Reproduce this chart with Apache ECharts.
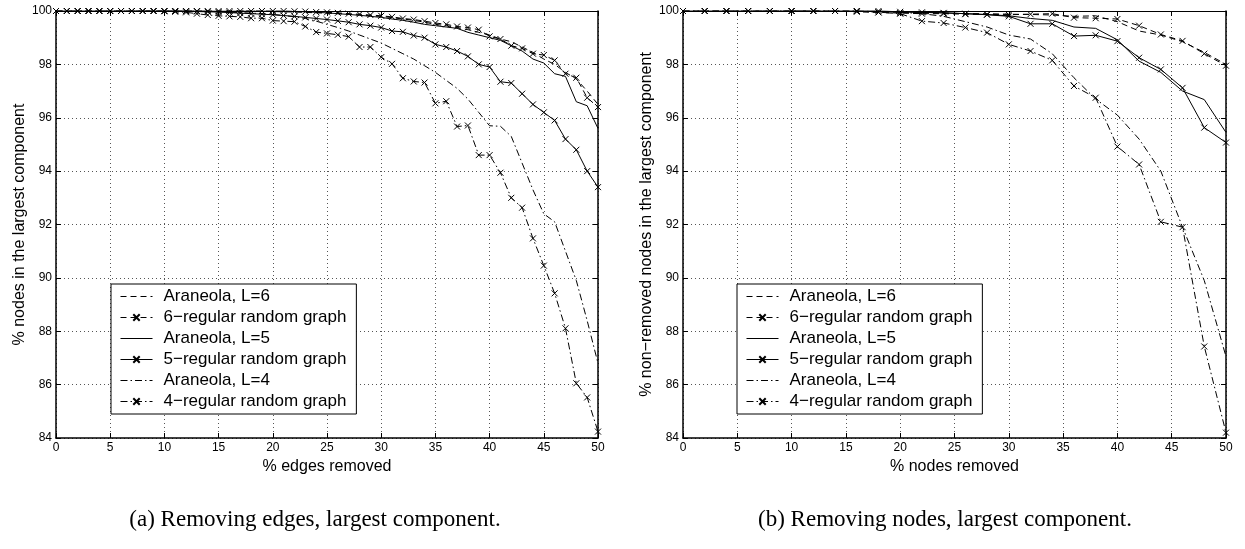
<!DOCTYPE html>
<html>
<head>
<meta charset="utf-8">
<script src="https://cdn.jsdelivr.net/npm/echarts@6/dist/echarts.min.js"></script>
<style>
  html, body { margin: 0; padding: 0; background: #fff; }
  #chart { width: 1245px; height: 549px; }
</style>
</head>
<body>
<div id="chart"></div>
<script>
// x positions: percentage of edges / nodes removed
const edgesRemoved = [0,1,2,3,4,5,6,7,8,9,10,11,12,13,14,15,16,17,18,19,20,21,22,23,24,25,26,27,28,29,30,31,32,33,34,35,36,37,38,39,40,41,42,43,44,45,46,47,48,49,50];
const nodesRemoved = [0,2,4,6,8,10,12,14,16,18,20,22,24,26,28,30,32,34,36,38,40,42,44,46,48,50];

const seriesNames = ['Araneola, L=6', '6−regular random graph', 'Araneola, L=5', '5−regular random graph', 'Araneola, L=4', '4−regular random graph'];

// (a) edges removed: % nodes in the largest component
const edgesAraneolaL6 = [100,100,100,100,100,100,100,100,100,100,100,100,100,100,100,100,100,100,100,100,99.98,99.97,99.96,99.95,99.93,99.92,99.9,99.88,99.85,99.82,99.8,99.75,99.7,99.65,99.58,99.5,99.45,99.38,99.3,99.2,99.1,98.95,98.85,98.65,98.45,98.2,98.0,97.7,97.45,97.0,96.5];
const edgesRegular6 = [100,100,100,100,100,100,100,100,100,100,100,100,100,100,100,100,100,100,100,100,100,100,99.99,99.98,99.96,99.95,99.93,99.9,99.88,99.85,99.82,99.78,99.72,99.68,99.62,99.55,99.5,99.42,99.38,99.3,99.05,98.95,98.7,98.6,98.4,98.35,98.15,97.65,97.5,96.75,96.4];
const edgesAraneolaL5 = [100,100,100,100,100,100,100,100,100,100,100,100,100,100,100,100,100,100,100,100,100,100,99.98,99.97,99.95,99.93,99.9,99.87,99.84,99.8,99.76,99.7,99.65,99.58,99.5,99.45,99.4,99.35,99.2,99.1,99.0,98.9,98.7,98.5,98.2,98.05,97.65,97.55,96.6,96.45,95.6];
const edgesRegular5 = [100,100,100,100,100,100,100,100,100,100,100,100,99.99,99.98,99.97,99.96,99.94,99.92,99.9,99.88,99.86,99.83,99.8,99.76,99.72,99.68,99.63,99.58,99.5,99.45,99.38,99.25,99.22,99.08,99.0,98.75,98.65,98.5,98.3,98.0,97.9,97.35,97.3,96.9,96.5,96.2,95.9,95.2,94.8,94.0,93.4];
const edgesAraneolaL4 = [100,100,100,100,100,100,100,100,100,100,100,100,100,100,100,99.98,99.96,99.94,99.92,99.9,99.87,99.83,99.78,99.72,99.62,99.5,99.38,99.25,99.1,98.95,98.8,98.6,98.4,98.2,97.95,97.7,97.4,97.1,96.7,96.2,95.7,95.68,95.3,94.3,93.3,92.4,92.1,91.0,89.9,88.4,86.8];
const edgesRegular4 = [100,100,100,100,100,100,100,100,100,100,99.99,99.97,99.95,99.9,99.85,99.82,99.8,99.78,99.73,99.73,99.64,99.62,99.6,99.42,99.21,99.16,99.11,99.04,98.65,98.65,98.27,98.02,97.48,97.36,97.32,96.54,96.62,95.67,95.71,94.6,94.6,93.94,93.0,92.63,91.48,90.46,89.42,88.11,86.05,85.52,84.24];

// (b) nodes removed: % non-removed nodes in the largest component
const nodesAraneolaL6 = [100,100,100,100,100,100,100,100,99.98,99.97,99.95,99.93,99.92,99.9,99.9,99.88,99.87,99.85,99.8,99.82,99.6,99.25,99.1,98.85,98.45,98.0];
const nodesRegular6 = [100,100,100,100,100,100,100,100,99.97,99.95,99.92,99.9,99.9,99.88,99.87,99.86,99.88,99.9,99.75,99.73,99.7,99.45,99.12,98.88,98.4,97.95];
const nodesAraneolaL5 = [100,100,100,100,100,100,100,100,100,100,99.97,99.95,99.93,99.9,99.87,99.82,99.72,99.65,99.4,99.35,98.92,98.12,97.7,97.0,96.68,95.45];
const nodesRegular5 = [100,100,100,100,100,100,100,100,100,100,99.97,99.95,99.93,99.9,99.86,99.8,99.52,99.52,99.06,99.09,98.87,98.25,97.81,97.12,95.63,95.07];
const nodesAraneolaL4 = [100,100,100,100,100,100,100,100,100,99.98,99.95,99.9,99.8,99.6,99.4,99.1,98.95,98.4,97.5,96.7,96.1,95.2,94.0,91.9,89.9,87.05];
const nodesRegular4 = [100,100,100,100,100,100,100,100,100,99.95,99.9,99.62,99.55,99.38,99.19,98.75,98.5,98.15,97.19,96.75,94.92,94.25,92.1,91.9,87.43,84.2];

const yTicks = { min: 84, max: 100, interval: 2 };
const xTicks = { min: 0, max: 50, interval: 5 };

const SANS = 'Liberation Sans, Arial, sans-serif';
const SERIF = 'Liberation Serif, Times New Roman, serif';
const CROSS = 'path://M0,0L10,10M10,0L0,10';

const DASH = [6, 4];
const DASH_DOT = [7, 3, 1.5, 3];
const styles = [
  { type: DASH, marker: false },
  { type: DASH, marker: true },
  { type: 'solid', marker: false },
  { type: 'solid', marker: true },
  { type: DASH_DOT, marker: false },
  { type: DASH_DOT, marker: true }
];

function pairs(xs, ys) { return xs.map((x, i) => [x, ys[i]]); }

function makeSeries(xs, lists, axisIdx) {
  return lists.map((ys, k) => ({
    name: seriesNames[k],
    type: 'line',
    xAxisIndex: axisIdx,
    yAxisIndex: axisIdx,
    data: pairs(xs, ys),
    showSymbol: styles[k].marker,
    showAllSymbol: true,
    symbol: CROSS,
    symbolSize: 6,
    itemStyle: { color: '#000', borderColor: '#000', borderWidth: 1 },
    lineStyle: { color: '#000', width: 1, type: styles[k].type },
    emphasis: { disabled: true },
    animation: false,
    z: 3
  }));
}

function bottomX(grid, name) {
  return {
    type: 'value', gridIndex: grid, position: 'bottom',
    min: xTicks.min, max: xTicks.max, interval: xTicks.interval,
    name: name, nameLocation: 'middle', nameGap: 20,
    nameTextStyle: { fontFamily: SANS, fontSize: 16, color: '#000' },
    axisLine: { show: true, onZero: false, lineStyle: { color: '#000', width: 1.5 } },
    axisTick: { show: true, inside: true, length: 5, lineStyle: { color: '#000' } },
    axisLabel: { fontFamily: SANS, fontSize: 12, color: '#000', margin: 4 },
    splitLine: { show: true, lineStyle: { color: '#555', width: 1, type: [1, 3] } }
  };
}
function topX(grid) {
  return {
    type: 'value', gridIndex: grid, position: 'top',
    min: xTicks.min, max: xTicks.max, interval: xTicks.interval,
    axisLine: { show: true, onZero: false, lineStyle: { color: '#000', width: 1 } },
    axisTick: { show: true, inside: true, length: 5, lineStyle: { color: '#000' } },
    axisLabel: { show: false }, splitLine: { show: false }
  };
}
function leftY(grid, name) {
  return {
    type: 'value', gridIndex: grid, position: 'left',
    min: yTicks.min, max: yTicks.max, interval: yTicks.interval,
    name: name, nameLocation: 'middle', nameGap: 28, nameRotate: 90,
    nameTextStyle: { fontFamily: SANS, fontSize: 16, color: '#000' },
    axisLine: { show: true, onZero: false, lineStyle: { color: '#000', width: 1.5 } },
    axisTick: { show: true, inside: true, length: 5, lineStyle: { color: '#000' } },
    axisLabel: { fontFamily: SANS, fontSize: 12, color: '#000', margin: 4 },
    splitLine: { show: true, lineStyle: { color: '#555', width: 1, type: [1, 3] } }
  };
}
function rightY(grid) {
  return {
    type: 'value', gridIndex: grid, position: 'right',
    min: yTicks.min, max: yTicks.max, interval: yTicks.interval,
    axisLine: { show: true, onZero: false, lineStyle: { color: '#000', width: 1.5 } },
    axisTick: { show: true, inside: true, length: 5, lineStyle: { color: '#000' } },
    axisLabel: { show: false }, splitLine: { show: false }
  };
}

function legendAt(left) {
  return {
    left: left, top: 284, orient: 'vertical',
    data: seriesNames.map((name, k) => styles[k].marker
      ? { name: name }
      : { name: name, itemStyle: { opacity: 0 } }),
    itemWidth: 32, itemHeight: 8, itemGap: 4,
    padding: [4, 10, 4, 9],
    lineStyle: { width: 1 },
    borderColor: '#000', borderWidth: 1, backgroundColor: '#fff',
    textStyle: { fontFamily: SANS, fontSize: 17, lineHeight: 17, color: '#000', padding: [0, 0, 0, 6] },
    selectedMode: false,
    z: 10
  };
}

const chart = echarts.init(document.getElementById('chart'), null, { renderer: 'canvas' });
chart.setOption({
  backgroundColor: '#fff',
  animation: false,
  grid: [
    { left: 56, top: 11, width: 542, height: 427 },
    { left: 683, top: 11, width: 543, height: 427 }
  ],
  xAxis: [bottomX(0, '% edges removed'), bottomX(1, '% nodes removed'), topX(0), topX(1)],
  yAxis: [leftY(0, '% nodes in the largest component'), leftY(1, '% non−removed nodes in the largest component'), rightY(0), rightY(1)],
  legend: [legendAt(111), legendAt(737)],
  title: [
    { text: '(a) Removing edges, largest component.', left: 310, top: 503, textAlign: 'center',
      textStyle: { fontFamily: SERIF, fontSize: 23, fontWeight: 'normal', color: '#000' } },
    { text: '(b) Removing nodes, largest component.', left: 940, top: 503, textAlign: 'center',
      textStyle: { fontFamily: SERIF, fontSize: 23, fontWeight: 'normal', color: '#000' } }
  ],
  series: [
    ...makeSeries(edgesRemoved, [edgesAraneolaL6, edgesRegular6, edgesAraneolaL5, edgesRegular5, edgesAraneolaL4, edgesRegular4], 0),
    ...makeSeries(nodesRemoved, [nodesAraneolaL6, nodesRegular6, nodesAraneolaL5, nodesRegular5, nodesAraneolaL4, nodesRegular4], 1)
  ]
});
</script>
</body>
</html>
